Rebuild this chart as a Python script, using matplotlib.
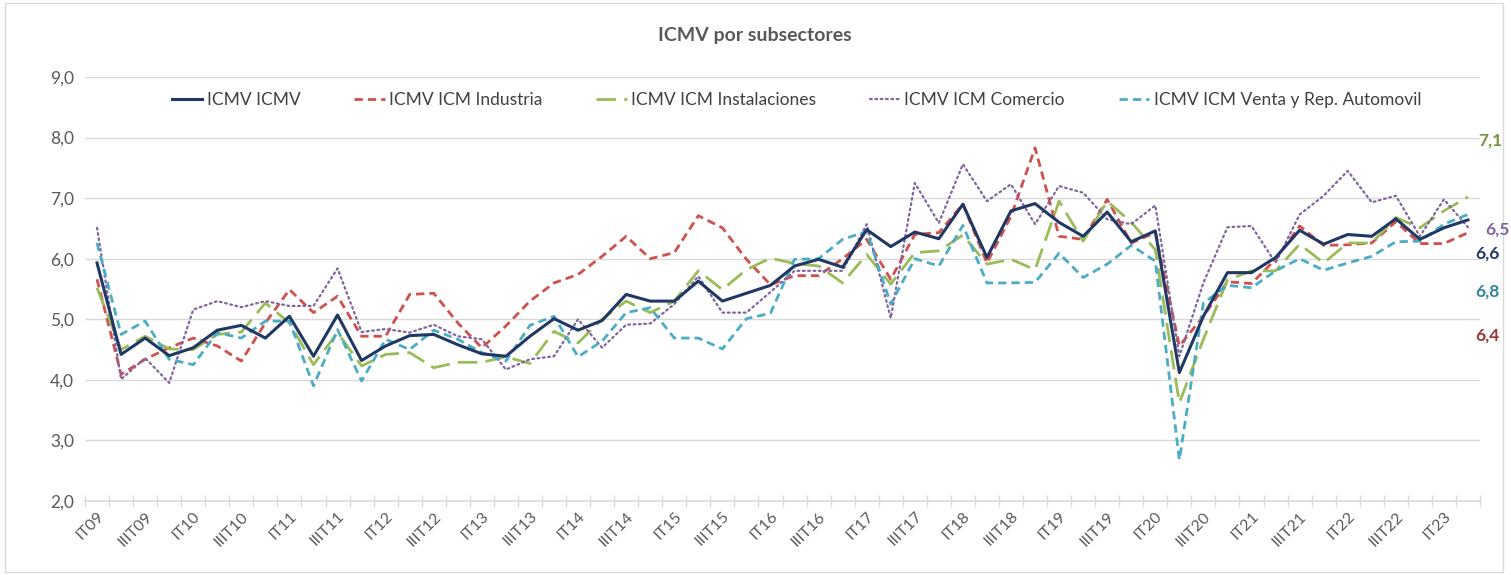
import matplotlib
matplotlib.use("Agg")
import matplotlib.pyplot as plt
import numpy as np
from matplotlib.patches import Rectangle

plt.rcParams['font.family'] = ['Lato', 'DejaVu Sans']

# Quarters IT09 .. IIT23
years = list(range(9, 24))
roman = ['I', 'II', 'III', 'IV']
quarters = [f'{r}T{y:02d}' for y in years for r in roman][:58]

icmv = [5.93, 4.42, 4.69, 4.40, 4.53, 4.82, 4.90, 4.69, 5.05, 4.39,
        5.07, 4.32, 4.56, 4.73, 4.75, 4.58, 4.43, 4.39, 4.72, 5.01,
        4.82, 4.98, 5.41, 5.30, 5.30, 5.63, 5.30, 5.43, 5.56, 5.88,
        5.99, 5.86, 6.48, 6.20, 6.44, 6.33, 6.90, 6.02, 6.79, 6.91,
        6.60, 6.37, 6.77, 6.28, 6.46, 4.12, 5.05, 5.77, 5.77, 6.02,
        6.47, 6.24, 6.40, 6.37, 6.66, 6.32, 6.51, 6.64]
industria = [5.66, 4.09, 4.34, 4.53, 4.69, 4.56, 4.31, 4.94, 5.49, 5.11,
             5.38, 4.72, 4.72, 5.41, 5.43, 4.94, 4.53, 4.89, 5.30, 5.60,
             5.74, 6.04, 6.37, 6.00, 6.10, 6.71, 6.51, 5.99, 5.57, 5.72,
             5.72, 6.00, 6.32, 5.66, 6.40, 6.43, 6.90, 5.93, 6.70, 7.83,
             6.37, 6.32, 6.98, 6.26, 6.43, 4.56, 5.05, 5.62, 5.59, 5.99,
             6.54, 6.22, 6.23, 6.26, 6.61, 6.25, 6.25, 6.43]
instalaciones = [5.52, 4.50, 4.72, 4.51, 4.50, 4.75, 4.79, 5.27, 4.94, 4.25,
                 4.78, 4.23, 4.42, 4.45, 4.20, 4.29, 4.29, 4.38, 4.27, 4.80,
                 4.61, 5.00, 5.30, 5.11, 5.30, 5.80, 5.49, 5.82, 6.01, 5.92,
                 5.88, 5.60, 6.07, 5.58, 6.10, 6.13, 6.39, 5.91, 5.99, 5.82,
                 6.95, 6.29, 6.95, 6.60, 6.15, 3.62, 4.67, 5.65, 5.80, 5.80,
                 6.24, 5.93, 6.26, 6.26, 6.68, 6.51, 6.79, 7.02]
comercio = [6.51, 4.01, 4.36, 3.95, 5.16, 5.30, 5.20, 5.30, 5.22, 5.22,
            5.84, 4.79, 4.84, 4.78, 4.91, 4.72, 4.67, 4.17, 4.34, 4.39,
            5.00, 4.53, 4.91, 4.93, 5.25, 5.71, 5.11, 5.11, 5.45, 5.80,
            5.80, 5.80, 6.57, 5.02, 7.25, 6.59, 7.56, 6.95, 7.23, 6.57,
            7.20, 7.09, 6.65, 6.57, 6.88, 4.39, 5.60, 6.52, 6.54, 5.93,
            6.73, 7.04, 7.45, 6.93, 7.04, 6.37, 6.98, 6.52]
automovil = [6.26, 4.75, 4.97, 4.34, 4.25, 4.78, 4.69, 4.97, 4.97, 3.90,
             4.83, 3.98, 4.67, 4.50, 4.82, 4.67, 4.45, 4.31, 4.90, 5.05,
             4.38, 4.64, 5.11, 5.19, 4.69, 4.69, 4.51, 5.01, 5.10, 5.99,
             6.00, 6.32, 6.45, 5.25, 6.00, 5.88, 6.55, 5.60, 5.60, 5.61,
             6.09, 5.69, 5.91, 6.22, 5.96, 2.68, 5.27, 5.56, 5.52, 5.80,
             6.00, 5.81, 5.93, 6.04, 6.28, 6.29, 6.57, 6.73]

series_names = ['ICMV ICMV', 'ICMV ICM Industria', 'ICMV ICM Instalaciones',
                'ICMV ICM Comercio', 'ICMV ICM Venta y Rep. Automovil']
end_labels = ['6,6', '6,4', '7,1', '6,5', '6,8']

colors = ['#1F3864', '#D0504D', '#9BBB59', '#8064A2', '#4BACC6']
label_colors = ['#1F3864', '#953735', '#77933C', '#8064A2', '#31859C']

fig = plt.figure(figsize=(15.11, 5.75), dpi=100)
W, H = 1511, 575
ax = fig.add_axes([85 / W, 1 - 501 / H, 1395 / W, 424 / H])

x = np.arange(len(quarters))
data = [icmv, industria, instalaciones, comercio, automovil]
styles = [
    dict(lw=2.2, linestyle='-'),
    dict(lw=2.0, dashes=(3.0, 1.8)),
    dict(lw=2.0, dashes=(7.0, 3.0)),
    dict(lw=1.6, dashes=(0.8, 1.6), dash_capstyle='round'),
    dict(lw=2.0, dashes=(3.0, 1.8)),
]
# navy drawn last so it sits on top
order = [1, 2, 3, 4, 0]
handles = {}
for k in order:
    h, = ax.plot(x, data[k], color=colors[k], label=series_names[k],
                 zorder=3, **styles[k])
    handles[k] = h

ax.set_xlim(-0.5, len(quarters) - 0.5)
ax.set_ylim(2, 9)
ax.set_yticks(np.arange(2, 10, 1))
ax.set_yticklabels([f'{v},0' for v in range(2, 10)])
ax.grid(axis='y', color='#D9D9D9', lw=1)
ax.set_axisbelow(True)

ax.set_xticks(x[::2])
ax.set_xticklabels(quarters[::2], rotation=45, ha='right', va='top',
                   rotation_mode='anchor')
ax.set_xticks(np.arange(-0.5, len(quarters), 1), minor=True)
ax.tick_params(axis='x', which='major', length=0, pad=6, labelsize=11.5,
               labelcolor='#595959')
ax.tick_params(axis='x', which='minor', length=8, direction='inout',
               color='#D9D9D9', width=1)
ax.tick_params(axis='y', length=0, pad=8, labelsize=12.5, labelcolor='#595959')

for s in ['top', 'right', 'left']:
    ax.spines[s].set_visible(False)
ax.spines['bottom'].set_color('#D9D9D9')
ax.spines['bottom'].set_linewidth(1.2)

leg = ax.legend([handles[k] for k in range(5)], series_names, ncol=5,
                frameon=False, loc='center left',
                bbox_to_anchor=((172 - 85) / 1395, (501 - 100) / 424),
                borderaxespad=0, borderpad=0,
                fontsize=12.5, handlelength=1.75, handletextpad=0.25,
                columnspacing=3.1, labelcolor='#404040')

label_pos = [(1475, 254), (1475, 336), (1478, 141), (1485, 230), (1475, 292)]
for k in range(5):
    px, py = label_pos[k]
    fig.text(px / W, 1 - py / H, end_labels[k], color=label_colors[k],
             fontsize=12.5, fontweight='bold', ha='left', va='center')

fig.text(755 / W, 1 - 35 / H, 'ICMV por subsectores', ha='center', va='center',
         fontsize=14, fontweight='bold', color='#595959')

fig.patches.append(Rectangle((5 / W, 3 / H), 1498 / W, 569 / H,
                             transform=fig.transFigure, fill=False,
                             edgecolor='#D9D9D9', lw=1))

fig.savefig('out.png', dpi=100, facecolor='white')
